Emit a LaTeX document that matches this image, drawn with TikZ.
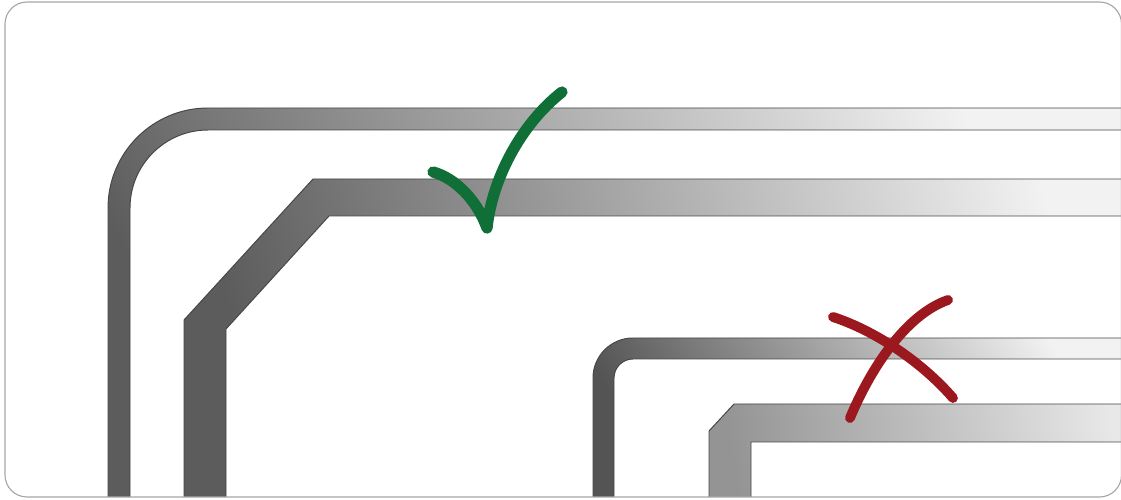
\documentclass[tikz,border=0pt]{standalone}
\definecolor{okGreen}{RGB}{16, 110, 55}
\definecolor{badRed}{RGB}{155, 24, 30}
\usetikzlibrary{calc}

\begin{document}
\begin{tikzpicture}[
    x=0.025cm, y=0.025cm,
    frame/.style={draw=black!35, line width=0.8pt, rounded corners=0.55cm},
    trace/.style={draw=black!72, line width=0.7pt, left color=#1, right color=black!5, shading angle=115},
    trace/.default=black!65,
    okstroke/.style={draw=okGreen, line width=8pt, line cap=round, line join=round},
    badstroke/.style={draw=badRed, line width=7pt, line cap=round}
  ]
    \useasboundingbox (0,0) rectangle (1121,500);

    \begin{scope}
      \clip[rounded corners=0.55cm] (5,3) rectangle (1121.5,498);

      % Good pair: round bend
      \path[trace=black!64, shading angle=122] (108,-10) -- (108,292) arc[start angle=180, end angle=90, radius=100]
        -- (1140,392) -- (1140,370) -- (208,370) arc[start angle=90, end angle=180, radius=78]
        -- (130,-10) -- cycle;

      % Good pair: mitred bend
      \path[trace=black!64, shading angle=105] (184,-10) -- (184,180) -- (313,321) -- (1140,321)
        -- (1140,284) -- (329,284) -- (226,171) -- (226,-10) -- cycle;

      % Bad pair: tight round bend
      \path[trace=black!67, shading angle=122] (593,-10) -- (593,122) arc[start angle=180, end angle=90, radius=40]
        -- (1140,162) -- (1140,141) -- (633,141) arc[start angle=90, end angle=180, radius=19]
        -- (614,-10) -- cycle;

      % Bad pair: square inner corner
      \path[trace=black!42, right color=black!9, shading angle=100] (709,-10) -- (709,69) -- (734,96) -- (1140,96)
        -- (1140,58) -- (751,58) -- (751,-10) -- cycle;
    \end{scope}

    % Outline
    \draw[frame] (5,3) rectangle (1121.5,498);

    % Tick
    \draw[okstroke] (433,328) .. controls (455,322) and (477,300) .. (487,272)
      .. controls (492,320) and (520,375) .. (562,408);

    % Cross
    \draw[badstroke] (833,183) .. controls (873,170) and (920,140) .. (953,102);
    \draw[badstroke] (850,82) .. controls (870,130) and (905,185) .. (948,200);
  \end{tikzpicture}
\end{document}
